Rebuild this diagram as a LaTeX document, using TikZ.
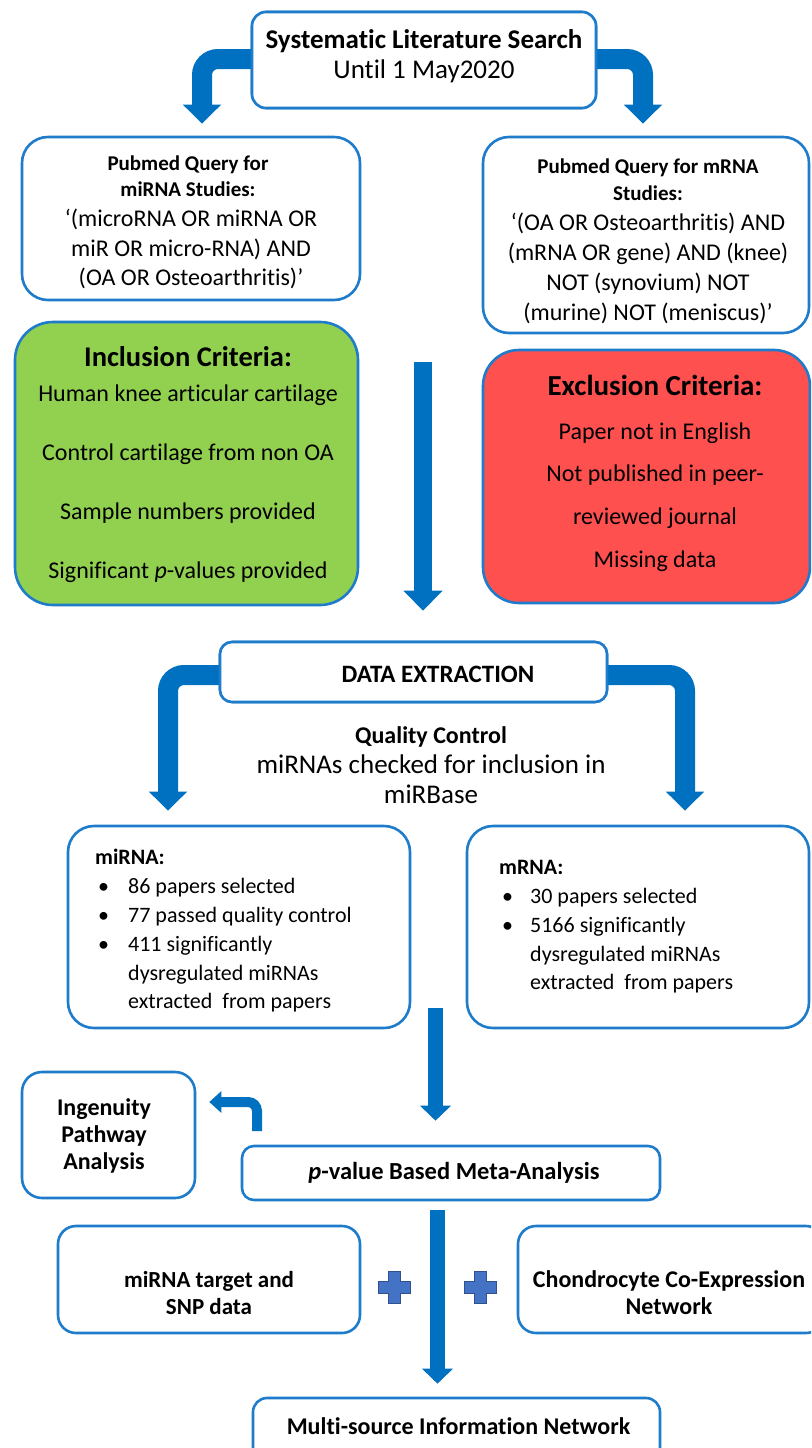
\documentclass[tikz,border=0pt]{standalone}
\usepackage{fontspec}
\setmainfont{Carlito}[Ligatures={NoCommon}]
\usetikzlibrary{arrows.meta}
\definecolor{bord}{HTML}{1F7CCB}
\definecolor{arr}{HTML}{0070C0}
\definecolor{inclf}{HTML}{92D050}
\definecolor{exclf}{HTML}{FF5050}
\definecolor{plusf}{HTML}{4472C4}
\definecolor{pluse}{HTML}{2F528F}
\begin{document}
\begin{tikzpicture}[x=1pt,y=-1pt,
  box/.style={draw=bord, line width=2.6pt, fill=white, inner sep=0pt},
  bigarrow/.style={draw=arr, line width=20pt, rounded corners=16pt, -{Triangle[width=37pt,length=19pt]}},
  midarrow/.style={draw=arr, line width=18pt, -{Triangle[width=38pt,length=20pt]}},
  smallarrow/.style={draw=arr, line width=14.5pt, -{Triangle[width=30pt,length=15pt]}},
  tinyarrow/.style={draw=arr, line width=10pt, rounded corners=9pt, -{Triangle[width=21pt,length=12pt]}},
  txt/.style={align=center, inner sep=0pt},
  plus/.style={fill=plusf, draw=pluse, line width=0.8pt}]
\useasboundingbox (0,0) rectangle (811,1448);
\clip (0,0) rectangle (811,1448);
\fill[white] (0,0) rectangle (811,1448);

% boxes (positions)
\node[box, rounded corners=14pt, minimum width=344pt, minimum height=96pt] (top) at (424,60) {};
\node[box, rounded corners=26pt, minimum width=338pt, minimum height=163pt] (pubL) at (191,218.5) {};
\node[box, rounded corners=26pt, minimum width=326pt, minimum height=196pt] (pubR) at (646,235) {};
\node[box, fill=inclf, rounded corners=38pt, minimum width=343pt, minimum height=283pt] (incl) at (186.5,463.5) {};
\node[box, fill=exclf, rounded corners=36pt, minimum width=327pt, minimum height=253pt] (excl) at (646.5,476.5) {};
\node[box, rounded corners=12pt, minimum width=387pt, minimum height=60pt] (dx) at (413.5,672) {};
\node[box, rounded corners=26pt, minimum width=342pt, minimum height=202pt] (mir) at (239,927) {};
\node[box, rounded corners=26pt, minimum width=342pt, minimum height=202pt] (mrna) at (638,927) {};
\node[box, rounded corners=20pt, minimum width=173pt, minimum height=126pt] (ipa) at (108.5,1135) {};
\node[box, rounded corners=12pt, minimum width=418pt, minimum height=54pt] (meta) at (451,1173) {};
\node[box, rounded corners=18pt, minimum width=302pt, minimum height=107pt] (tgt) at (209,1279.5) {};
\node[box, rounded corners=18pt, minimum width=306pt, minimum height=107pt] (chon) at (671,1279.5) {};
\node[box, rounded corners=14pt, minimum width=407pt, minimum height=64pt] (multi) at (456.5,1430) {};

% connectors
\coordinate (m1) at (423,362);
\coordinate (m2) at (435.5,1008);
\coordinate (m3) at (437.5,1210);
\coordinate (ia) at (257,1131);

\draw[bigarrow] ([yshift=1pt]top.center) -| ([xshift=11pt,yshift=12pt]pubL.north);
\draw[bigarrow] ([yshift=1pt]top.center) -| ([xshift=-3pt,yshift=12pt]pubR.north);
\draw[midarrow] (m1) -- ([xshift=9.5pt,yshift=30pt]dx.north);
\draw[bigarrow] ([yshift=-3pt]dx.center) -| ([xshift=-71pt,yshift=14pt]mir.north);
\draw[bigarrow] ([yshift=-3pt]dx.center) -| ([xshift=47pt,yshift=14pt]mrna.north);
\draw[smallarrow] (m2) -- ([xshift=-15.5pt,yshift=24pt]meta.north);
\draw[tinyarrow] (ia) |- ([xshift=13pt,yshift=33pt]ipa.east);
\draw[smallarrow] (m3) -- ([xshift=-19pt,yshift=13pt]multi.north);

% redraw source boxes on top of their connectors
\node[box, rounded corners=14pt, minimum width=344pt, minimum height=96pt] at (top) {};
\node[box, rounded corners=12pt, minimum width=387pt, minimum height=60pt] at (dx) {};

% texts
\node[txt, font=\fontsize{27}{30}\selectfont] (topt) at (424,56) {\textbf{Systematic Literature Search}\\Until 1 May2020};

\node[txt, font=\bfseries\fontsize{21}{26}\selectfont] (pubLh) at (188,176) {Pubmed Query for\\miRNA Studies:};
\node[txt, font=\fontsize{24}{29.5}\selectfont] (pubLb) at (191,249) {‘(microRNA OR miRNA OR\\miR OR micro-RNA) AND\\(OA OR Osteoarthritis)’};

\node[txt, font=\bfseries\fontsize{21}{27}\selectfont] (pubRh) at (648,179.5) {Pubmed Query for mRNA\\Studies:};
\node[txt, font=\fontsize{24}{30}\selectfont] (pubRb) at (648,268) {‘(OA OR Osteoarthritis) AND\\(mRNA OR gene) AND (knee)\\NOT (synovium) NOT\\(murine) NOT (meniscus)’};

\node[txt, font=\bfseries\fontsize{28.5}{30}\selectfont] (inclh) at (188,357) {Inclusion Criteria:};
\node[txt, font=\fontsize{24}{59}\selectfont] (inclb) at (188,484) {Human knee articular cartilage\\Control cartilage from non OA\\Sample numbers provided\\Significant \textit{p}-values provided};

\node[txt, font=\bfseries\fontsize{29}{30}\selectfont] (exclh) at (655,385) {Exclusion Criteria:};
\node[txt, font=\fontsize{24}{42.7}\selectfont] (exclb) at (655,497) {Paper not in English\\Not published in peer-\\reviewed journal\\Missing data};

\node[txt, font=\bfseries\fontsize{25}{30}\selectfont] (dxt) at (438,674) {DATA EXTRACTION};
\node[txt, font=\fontsize{27}{30}\selectfont] (qc) at (431,765) {\textbf{\fontsize{24}{30}\selectfont Quality Control}\\miRNAs checked for inclusion in\\miRBase};

\node[txt, align=left, anchor=west, font=\fontsize{22}{28.8}\selectfont] (mirt) at (95,931) {\textbf{miRNA:}\\\makebox[33pt][l]{\hspace{3pt}•}86 papers selected\\\makebox[33pt][l]{\hspace{3pt}•}77 passed quality control\\\makebox[33pt][l]{\hspace{3pt}•}411 significantly\\\hspace*{33pt}dysregulated miRNAs\\\hspace*{33pt}extracted\ \ from papers};

\node[txt, align=left, anchor=west, font=\fontsize{22}{28.8}\selectfont] (mrnat) at (499,927) {\textbf{mRNA:}\\\makebox[31pt][l]{\hspace{3pt}•}30 papers selected\\\makebox[31pt][l]{\hspace{3pt}•}5166 significantly\\\hspace*{31pt}dysregulated miRNAs\\\hspace*{31pt}extracted\ \ from papers};

\node[txt, font=\bfseries\fontsize{24}{27}\selectfont] (ipat) at (104,1136) {Ingenuity\\Pathway\\Analysis};
\node[txt, font=\bfseries\fontsize{24.5}{30}\selectfont] (metat) at (454,1173) {\textit{p}-value Based Meta-Analysis};
\node[txt, font=\bfseries\fontsize{23}{27}\selectfont] (tgtt) at (209,1292.5) {miRNA target and\\SNP data};
\node[txt, font=\bfseries\fontsize{24}{27}\selectfont] (chont) at (669,1292.5) {Chondrocyte Co-Expression\\Network};
\node[txt, font=\bfseries\fontsize{24}{30}\selectfont] (multit) at (458.5,1426) {Multi-source Information Network};

% plus signs
\coordinate (p1) at (394,1287);
\coordinate (p2) at (480,1287);
\foreach \p in {p1,p2}{
  \path[plus] ([xshift=-6pt,yshift=16pt]\p) -- ++(12,0) -- ++(0,10) -- ++(10,0) -- ++(0,12) -- ++(-10,0) -- ++(0,10) -- ++(-12,0) -- ++(0,-10) -- ++(-10,0) -- ++(0,-12) -- ++(10,0) -- cycle;
}
\end{tikzpicture}
\end{document}
